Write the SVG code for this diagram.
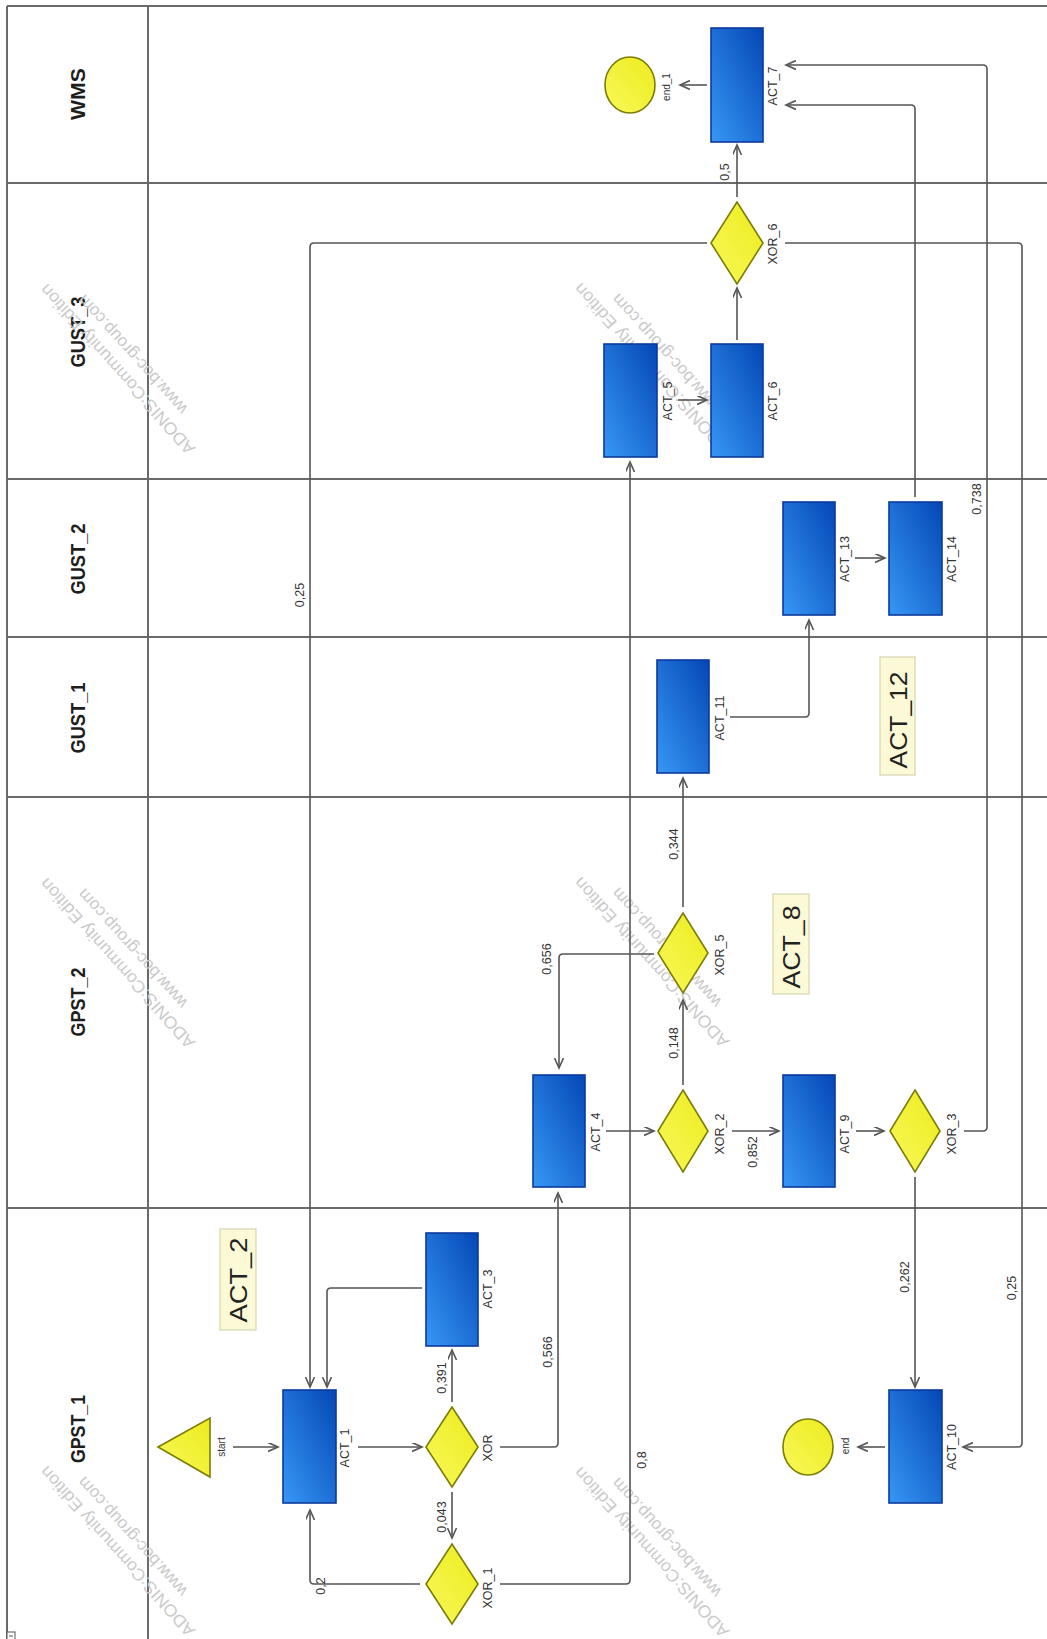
<svg xmlns="http://www.w3.org/2000/svg" width="1047" height="1639" viewBox="0 0 1047 1639">
<style>
.lane{stroke:#6a6a6a;stroke-width:2;fill:none}
.lt{font-family:"Liberation Sans",Arial,sans-serif;font-weight:bold;font-size:20px;fill:#1e1e1e;text-anchor:middle}
.act{fill:url(#gAct);stroke:#0b3a9c;stroke-width:1.6}
.gw{fill:url(#gYel);stroke:#7d7d05;stroke-width:1.6}
.nl{font-family:"Liberation Sans",Arial,sans-serif;font-size:12.5px;fill:#333;text-anchor:middle}
.sl{font-family:"Liberation Sans",Arial,sans-serif;font-size:10px;fill:#333;text-anchor:middle}
.el{font-family:"Liberation Sans",Arial,sans-serif;font-size:12.5px;fill:#333;text-anchor:middle}
.con{fill:none;stroke:#555;stroke-width:1.6;marker-end:url(#arr)}
.ann{fill:#fcf9d6;stroke:#d8d4b0;stroke-width:1.2}
.at{font-family:"Liberation Sans",Arial,sans-serif;font-size:23px;fill:#222;text-anchor:middle}
.wm{font-family:"Liberation Sans",Arial,sans-serif;font-size:17px;fill:#cacaca}
</style>
<defs>
<linearGradient id="gAct" x1="0" y1="1" x2="1" y2="0">
<stop offset="0" stop-color="#3797f5"/>
<stop offset="1" stop-color="#0447b6"/>
</linearGradient>
<linearGradient id="gYel" x1="0" y1="1" x2="1" y2="0">
<stop offset="0" stop-color="#f8f85a"/>
<stop offset="1" stop-color="#ecec1e"/>
</linearGradient>
<marker id="arr" markerUnits="userSpaceOnUse" markerWidth="12" markerHeight="10" refX="10" refY="4.5" orient="auto">
<path d="M0,0 L10,4.5 L0,9" fill="none" stroke="#555" stroke-width="1.6"/>
</marker>
</defs>
<rect width="1047" height="1639" fill="#fff"/>

<g id="lanes">
<path class="lane" d="M7,6 H1047 M7,183 H1047 M7,479 H1047 M7,637 H1047 M7,797 H1047 M7,1208 H1047 M7,6 V1639 M148,6 V1639"/>
<text class="lt" transform="rotate(-90,85,94)" x="85" y="94" textLength="52" lengthAdjust="spacingAndGlyphs">WMS</text>
<text class="lt" transform="rotate(-90,85,332)" x="85" y="332" textLength="71" lengthAdjust="spacingAndGlyphs">GUST_3</text>
<text class="lt" transform="rotate(-90,85,559)" x="85" y="559" textLength="71" lengthAdjust="spacingAndGlyphs">GUST_2</text>
<text class="lt" transform="rotate(-90,85,718)" x="85" y="718" textLength="71" lengthAdjust="spacingAndGlyphs">GUST_1</text>
<text class="lt" transform="rotate(-90,85,1002)" x="85" y="1002" textLength="69" lengthAdjust="spacingAndGlyphs">GPST_2</text>
<text class="lt" transform="rotate(-90,85,1429)" x="85" y="1429" textLength="68" lengthAdjust="spacingAndGlyphs">GPST_1</text>
<rect x="7" y="1632" width="8" height="8" fill="#fff" stroke="#555" stroke-width="1"/>
<path d="M9,1636 H13" stroke="#555" stroke-width="1"/>
</g>

<g id="watermarks">
<g transform="translate(196,448) rotate(228)"><text class="wm" x="0" y="0" textLength="222" lengthAdjust="spacingAndGlyphs">ADONIS:Community Edition</text><text class="wm" x="35" y="21">www.boc-group.com</text></g>
<g transform="translate(196,1042) rotate(228)"><text class="wm" x="0" y="0" textLength="222" lengthAdjust="spacingAndGlyphs">ADONIS:Community Edition</text><text class="wm" x="35" y="21">www.boc-group.com</text></g>
<g transform="translate(196,1630) rotate(228)"><text class="wm" x="0" y="0" textLength="222" lengthAdjust="spacingAndGlyphs">ADONIS:Community Edition</text><text class="wm" x="35" y="21">www.boc-group.com</text></g>
<g transform="translate(730,447) rotate(228)"><text class="wm" x="0" y="0" textLength="222" lengthAdjust="spacingAndGlyphs">ADONIS:Community Edition</text><text class="wm" x="35" y="21">www.boc-group.com</text></g>
<g transform="translate(730,1041) rotate(228)"><text class="wm" x="0" y="0" textLength="222" lengthAdjust="spacingAndGlyphs">ADONIS:Community Edition</text><text class="wm" x="35" y="21">www.boc-group.com</text></g>
<g transform="translate(730,1631) rotate(228)"><text class="wm" x="0" y="0" textLength="222" lengthAdjust="spacingAndGlyphs">ADONIS:Community Edition</text><text class="wm" x="35" y="21">www.boc-group.com</text></g>
</g>

<g id="connectors">
<path class="con" d="M233,1447 H278"/>
<path class="con" d="M358,1447 H422"/>
<path class="con" d="M452,1402 V1350"/>
<path class="con" d="M422,1288 H331 Q327,1288 327,1292 V1387"/>
<path class="con" d="M452,1492 V1538"/>
<path class="con" d="M420,1584 H314 Q310,1584 310,1580 V1510"/>
<path class="con" d="M500,1584 H626 Q630,1584 630,1580 V462"/>
<path class="con" d="M500,1447 H554 Q558,1447 558,1443 V1193"/>
<path class="con" d="M606,1131 H654"/>
<path class="con" d="M732,1131 H779"/>
<path class="con" d="M856,1131 H884"/>
<path class="con" d="M915,1177 V1387"/>
<path class="con" d="M964,1131 H983 Q987,1131 987,1127 V69 Q987,65 983,65 H786"/>
<path class="con" d="M683,1085 V1000"/>
<path class="con" d="M654,954 H563 Q559,954 559,958 V1068"/>
<path class="con" d="M683,907 V778"/>
<path class="con" d="M730,717 H805 Q809,717 809,713 V620"/>
<path class="con" d="M855,558 H885"/>
<path class="con" d="M915,497 V109 Q915,105 911,105 H786"/>
<path class="con" d="M678,400 H707"/>
<path class="con" d="M737,340 V288"/>
<path class="con" d="M737,197 V145"/>
<path class="con" d="M707,85 H680"/>
<path class="con" d="M707,243 H314 Q310,243 310,247 V1387"/>
<path class="con" d="M785,243 H1018 Q1022,243 1022,247 V1443 Q1022,1447 1018,1447 H963"/>
<path class="con" d="M885,1447 H858"/>
<text class="el" transform="rotate(-90,729,172)" x="729" y="172">0,5</text>
<text class="el" transform="rotate(-90,304,595)" x="304" y="595">0,25</text>
<text class="el" transform="rotate(-90,981,499)" x="981" y="499">0,738</text>
<text class="el" transform="rotate(-90,678,844)" x="678" y="844">0,344</text>
<text class="el" transform="rotate(-90,678,1043)" x="678" y="1043">0,148</text>
<text class="el" transform="rotate(-90,551,959)" x="551" y="959">0,656</text>
<text class="el" transform="rotate(-90,757,1152)" x="757" y="1152">0,852</text>
<text class="el" transform="rotate(-90,552,1352)" x="552" y="1352">0,566</text>
<text class="el" transform="rotate(-90,446,1378)" x="446" y="1378">0,391</text>
<text class="el" transform="rotate(-90,446,1517)" x="446" y="1517">0,043</text>
<text class="el" transform="rotate(-90,325,1586)" x="325" y="1586">0,2</text>
<text class="el" transform="rotate(-90,646,1460)" x="646" y="1460">0,8</text>
<text class="el" transform="rotate(-90,909,1277)" x="909" y="1277">0,262</text>
<text class="el" transform="rotate(-90,1016,1288)" x="1016" y="1288">0,25</text>
</g>

<g id="start"><polygon class="gw" points="158,1447 210,1418 210,1477"/><text class="sl" transform="rotate(-90,225,1447)" x="225" y="1447">start</text></g>
<g id="ACT_1"><rect class="act" x="283" y="1390" width="53" height="113"/><text class="nl" transform="rotate(-90,349,1448)" x="349" y="1448">ACT_1</text></g>
<g id="XOR"><polygon class="gw" points="452,1407 478,1447 452,1487 426,1447"/><text class="nl" transform="rotate(-90,492,1448)" x="492" y="1448">XOR</text></g>
<g id="ACT_3"><rect class="act" x="426" y="1233" width="52" height="113"/><text class="nl" transform="rotate(-90,492,1289)" x="492" y="1289">ACT_3</text></g>
<g id="XOR_1"><polygon class="gw" points="452,1544 478,1584 452,1624 426,1584"/><text class="nl" transform="rotate(-90,492,1588)" x="492" y="1588">XOR_1</text></g>
<g id="ACT_2"><rect class="ann" x="220" y="1229" width="36" height="101"/><text class="at" transform="rotate(-90,247,1280)" x="247" y="1280" textLength="85" lengthAdjust="spacingAndGlyphs">ACT_2</text></g>
<g id="ACT_10"><rect class="act" x="889" y="1390" width="53" height="113"/><text class="nl" transform="rotate(-90,956,1447)" x="956" y="1447">ACT_10</text></g>
<g id="end"><ellipse class="gw" cx="808" cy="1447" rx="25" ry="28"/><text class="sl" transform="rotate(-90,849,1446)" x="849" y="1446">end</text></g>
<g id="ACT_4"><rect class="act" x="533" y="1075" width="52" height="112"/><text class="nl" transform="rotate(-90,600,1132)" x="600" y="1132">ACT_4</text></g>
<g id="XOR_2"><polygon class="gw" points="683,1090 708,1131 683,1172 658,1131"/><text class="nl" transform="rotate(-90,724,1134)" x="724" y="1134">XOR_2</text></g>
<g id="ACT_9"><rect class="act" x="783" y="1075" width="52" height="112"/><text class="nl" transform="rotate(-90,849,1134)" x="849" y="1134">ACT_9</text></g>
<g id="XOR_3"><polygon class="gw" points="915,1090 940,1131 915,1172 890,1131"/><text class="nl" transform="rotate(-90,956,1134)" x="956" y="1134">XOR_3</text></g>
<g id="XOR_5"><polygon class="gw" points="683,913 708,953 683,993 658,953"/><text class="nl" transform="rotate(-90,724,955)" x="724" y="955">XOR_5</text></g>
<g id="ACT_8"><rect class="ann" x="773" y="894" width="36" height="100"/><text class="at" transform="rotate(-90,800,947)" x="800" y="947" textLength="83" lengthAdjust="spacingAndGlyphs">ACT_8</text></g>
<g id="ACT_11"><rect class="act" x="657" y="660" width="52" height="113"/><text class="nl" transform="rotate(-90,724,718)" x="724" y="718">ACT_11</text></g>
<g id="ACT_12"><rect class="ann" x="880" y="657" width="35" height="118"/><text class="at" transform="rotate(-90,907,720)" x="907" y="720" textLength="97" lengthAdjust="spacingAndGlyphs">ACT_12</text></g>
<g id="ACT_13"><rect class="act" x="783" y="502" width="52" height="113"/><text class="nl" transform="rotate(-90,849,559)" x="849" y="559">ACT_13</text></g>
<g id="ACT_14"><rect class="act" x="889" y="502" width="53" height="113"/><text class="nl" transform="rotate(-90,956,559)" x="956" y="559">ACT_14</text></g>
<g id="ACT_5"><rect class="act" x="604" y="344" width="53" height="113"/><text class="nl" transform="rotate(-90,672,401)" x="672" y="401">ACT_5</text></g>
<g id="ACT_6"><rect class="act" x="711" y="344" width="52" height="113"/><text class="nl" transform="rotate(-90,777,401)" x="777" y="401">ACT_6</text></g>
<g id="XOR_6"><polygon class="gw" points="737,202 763,243 737,284 711,243"/><text class="nl" transform="rotate(-90,777,244)" x="777" y="244">XOR_6</text></g>
<g id="ACT_7"><rect class="act" x="711" y="28" width="52" height="114"/><text class="nl" transform="rotate(-90,777,86)" x="777" y="86">ACT_7</text></g>
<g id="end_1"><ellipse class="gw" cx="630" cy="85" rx="25" ry="28"/><text class="sl" transform="rotate(-90,670,87)" x="670" y="87">end_1</text></g>
</svg>
